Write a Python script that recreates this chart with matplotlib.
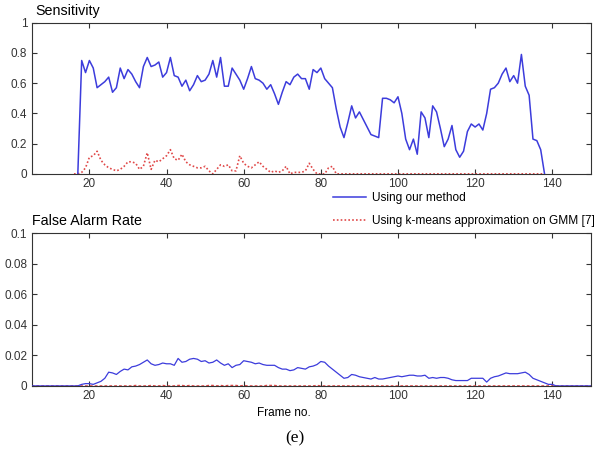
import numpy as np
import matplotlib
matplotlib.use('Agg')
import matplotlib.pyplot as plt

plt.rcParams['font.family'] = ['Liberation Sans', 'DejaVu Sans']

# --- data ---
sens_frames = np.arange(17, 139)
sens_ours = [
    0.00, 0.75, 0.67, 0.75, 0.70, 0.57, 0.59, 0.61, 0.64, 0.54,   # 17-26
    0.57, 0.70, 0.63, 0.69, 0.66, 0.61, 0.57, 0.71, 0.77, 0.71,   # 27-36
    0.72, 0.74, 0.64, 0.67, 0.77, 0.65, 0.64, 0.58, 0.62, 0.55,   # 37-46
    0.59, 0.65, 0.61, 0.62, 0.66, 0.75, 0.64, 0.77, 0.58, 0.58,   # 47-56
    0.70, 0.66, 0.62, 0.56, 0.63, 0.71, 0.63, 0.62, 0.60, 0.56,   # 57-66
    0.59, 0.53, 0.46, 0.54, 0.61, 0.59, 0.64, 0.66, 0.63, 0.63,   # 67-76
    0.56, 0.69, 0.67, 0.70, 0.63, 0.60, 0.57, 0.43, 0.31, 0.24,   # 77-86
    0.34, 0.45, 0.37, 0.41, 0.36, 0.31, 0.26, 0.25, 0.24, 0.50,   # 87-96
    0.50, 0.49, 0.47, 0.51, 0.40, 0.23, 0.16, 0.23, 0.13, 0.41,   # 97-106
    0.37, 0.24, 0.45, 0.41, 0.30, 0.18, 0.23, 0.32, 0.16, 0.11,   # 107-116
    0.15, 0.28, 0.33, 0.31, 0.33, 0.29, 0.40, 0.56, 0.57, 0.60,   # 117-126
    0.66, 0.70, 0.61, 0.65, 0.60, 0.79, 0.58, 0.52, 0.23, 0.22,   # 127-136
    0.16, 0.00,                                                   # 137-138
]

sens_km_frames = np.arange(16, 139)
sens_km = [
    0.00, 0.00, 0.01, 0.04, 0.11, 0.12, 0.15, 0.09, 0.06, 0.04,   # 16-25
    0.03, 0.02, 0.03, 0.05, 0.08, 0.08, 0.07, 0.03, 0.05, 0.14,   # 26-35
    0.03, 0.09, 0.08, 0.10, 0.12, 0.16, 0.10, 0.09, 0.13, 0.08,   # 36-45
    0.06, 0.05, 0.04, 0.04, 0.05, 0.02, 0.00, 0.03, 0.06, 0.05,   # 46-55
    0.06, 0.02, 0.02, 0.12, 0.07, 0.05, 0.04, 0.06, 0.08, 0.05,   # 56-65
    0.03, 0.01, 0.02, 0.01, 0.02, 0.05, 0.00, 0.01, 0.01, 0.01,   # 66-75
    0.02, 0.07, 0.03, 0.00, 0.00, 0.00, 0.04, 0.05, 0.00,         # 76-84
] + [0.00] * 54                                                   # 85-138

fa_frames = np.arange(5, 151)
fa_ours = [0.0] * 13 + [                                          # 5-17
    0.0010, 0.0015, 0.0015, 0.0010, 0.0020, 0.0030, 0.0050, 0.0090,  # 18-25
    0.0085, 0.0075, 0.0095, 0.0110, 0.0105, 0.0125, 0.0130, 0.0140,  # 26-33
    0.0155, 0.0170, 0.0145, 0.0135, 0.0140, 0.0150, 0.0145, 0.0145,  # 34-41
    0.0135, 0.0180, 0.0155, 0.0160, 0.0175, 0.0180, 0.0175, 0.0160,  # 42-49
    0.0165, 0.0150, 0.0155, 0.0170, 0.0150, 0.0135, 0.0145, 0.0120,  # 50-57
    0.0135, 0.0140, 0.0165, 0.0160, 0.0155, 0.0145, 0.0150, 0.0140,  # 58-65
    0.0135, 0.0135, 0.0135, 0.0120, 0.0110, 0.0110, 0.0100, 0.0105,  # 66-73
    0.0120, 0.0115, 0.0110, 0.0125, 0.0130, 0.0140, 0.0160, 0.0155,  # 74-81
    0.0130, 0.0110, 0.0090, 0.0070, 0.0050, 0.0055, 0.0075, 0.0070,  # 82-89
    0.0060, 0.0055, 0.0050, 0.0045, 0.0055, 0.0045, 0.0045, 0.0050,  # 90-97
    0.0055, 0.0060, 0.0065, 0.0060, 0.0065, 0.0070, 0.0070, 0.0065,  # 98-105
    0.0065, 0.0070, 0.0050, 0.0055, 0.0050, 0.0055, 0.0055, 0.0050,  # 106-113
    0.0040, 0.0035, 0.0035, 0.0035, 0.0035, 0.0050, 0.0050, 0.0050,  # 114-121
    0.0050, 0.0025, 0.0050, 0.0060, 0.0065, 0.0075, 0.0085, 0.0080,  # 122-129
    0.0080, 0.0080, 0.0085, 0.0090, 0.0075, 0.0050, 0.0040, 0.0030,  # 130-137
    0.0020, 0.0010, 0.0010,                                          # 138-140
] + [0.0] * 10                                                    # 141-150

fa_km = [0.0] * len(fa_frames)
for f in [32, 36, 39, 43, 44, 46, 51, 52, 54, 56, 57, 58, 60, 66, 67, 68, 79]:
    fa_km[f - 5] = 0.0003

xticks = [20, 40, 60, 80, 100, 120, 140]

blue = '#3c3cdc'
red = '#e04848'

fig = plt.figure(figsize=(5.95, 4.54), dpi=100)
ax1 = fig.add_axes([0.053, 0.617, 0.940, 0.333])
ax2 = fig.add_axes([0.053, 0.150, 0.940, 0.336])

l1, = ax1.plot(sens_frames, sens_ours, color=blue, lw=1.1, zorder=3)
l2, = ax1.plot(sens_km_frames, sens_km, color=red, lw=1.2, ls=(0, (1, 1.3)), zorder=2)
ax1.set_ylim(0, 1)
ax1.set_yticks([0, 0.2, 0.4, 0.6, 0.8, 1])
ax1.set_yticklabels(['0', '0.2', '0.4', '0.6', '0.8', '1'])

ax2.plot(fa_frames, fa_ours, color=blue, lw=0.9, zorder=3)
ax2.plot(fa_frames, fa_km, color=red, lw=1.0, ls=(0, (2, 1.5)), zorder=2)
ax2.set_ylim(0, 0.1)
ax2.set_yticks([0, 0.02, 0.04, 0.06, 0.08, 0.1])
ax2.set_yticklabels(['0', '0.02', '0.04', '0.06', '0.08', '0.1'])

for ax in (ax1, ax2):
    ax.set_xlim(5, 150)
    ax.set_xticks(xticks)
    ax.tick_params(direction='in', length=3.5, width=0.8, labelsize=8.5,
                   top=True, right=True, colors='#333333', pad=3)
    for s in ax.spines.values():
        s.set_linewidth(0.8)
        s.set_color('#333333')

fig.text(35 / 595, 1 - 15 / 454, 'Sensitivity', fontsize=10.3, va='baseline')
fig.text(32 / 595, 1 - 225 / 454, 'False Alarm Rate', fontsize=10.3, va='baseline')
fig.text(284 / 595, 1 - 413 / 454, 'Frame no.', fontsize=8.5, ha='center', va='center')
fig.text(295 / 595, 1 - 438 / 454, '(e)', fontsize=12.5, ha='center', va='center',
         family=['Liberation Serif', 'DejaVu Serif'])

fig.legend([l1, l2], ['Using our method', 'Using k-means approximation on GMM [7]'],
           loc='upper left', bbox_to_anchor=(333 / 595, 1 - 192 / 454),
           frameon=False, fontsize=8.6, handlelength=2.8, handletextpad=0.5,
           borderpad=0, borderaxespad=0, labelspacing=0.95)

fig.savefig('out.png', dpi=100)
